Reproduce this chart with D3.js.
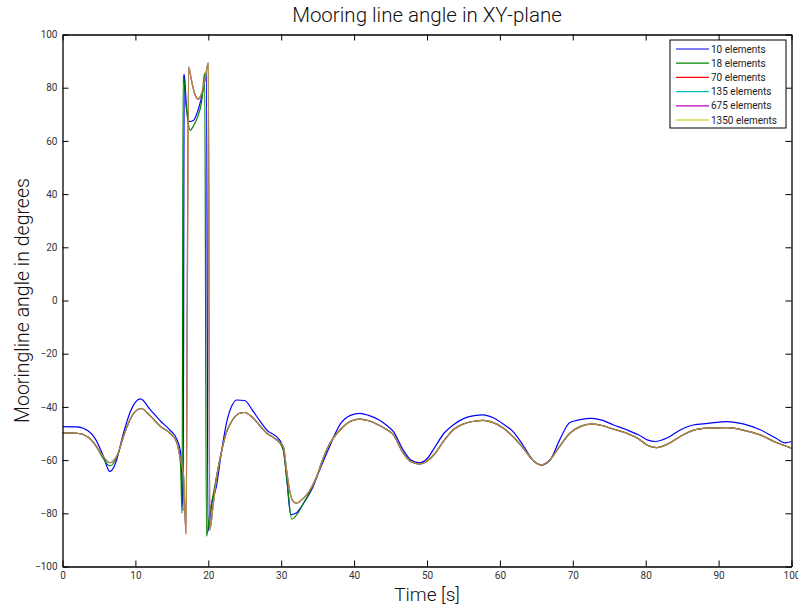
<!DOCTYPE html>
<html>
<head>
<meta charset="utf-8">
<script src="https://cdn.jsdelivr.net/npm/d3@7"></script>
<style>
  body { margin: 0; background: #fff; }
  svg { display: block; font-family: Roboto, "DejaVu Sans", sans-serif; }
</style>
</head>
<body>
<svg id="chart" width="798" height="609"></svg>
<script>
// ---- series metadata ----
const seriesNames  = ["10 elements", "18 elements", "70 elements", "135 elements", "675 elements", "1350 elements"];
const seriesColors = ["#0000ff", "#008000", "#ff0000", "#00bfbf", "#bf00bf", "#bfbf00"];

// ---- tick labels ----
const xTicks = [0, 10, 20, 30, 40, 50, 60, 70, 80, 90, 100];
const yTicks = [-100, -80, -60, -40, -20, 0, 20, 40, 60, 80, 100];

// ---- converged solution, shared by the fine discretisations (outside the flip) ----
const convergedTime  = [0, 2, 3.5, 4.5, 5.5, 6.5, 7.5, 8.5, 9.5, 10.8, 12, 13.5, 14.7, 15.7, 16.1,
  21.1, 21.8, 22.5, 23.3, 24.3, 25.0, 26, 27, 28, 29, 29.8, 30.3, 30.75, 31.2, 31.6, 32.1, 32.7, 33.5,
  34.2, 34.9, 35.6, 36.7, 37.5, 38.1, 39.5, 40.8, 42, 43.5, 44.5, 45.4, 46.7, 47.8, 49.0, 50, 51, 52.3,
  53.6, 55, 56.5, 57.7, 59, 60.5, 61.8, 63.2, 64.5, 65.7, 66.9, 68.2, 69.6, 71, 72.6, 74, 75.5, 77.4,
  79, 80.3, 81.5, 83, 84.8, 86.5, 88.5, 91.1, 93.5, 95.7, 98, 100];
const convergedAngle = [-49.8, -49.9, -51.3, -54.3, -58.3, -61.0, -58.2, -50, -43.5, -40.6, -43.3, -47.5, -49.8, -53.5, -58.7,
  -67.4, -57, -49.5, -45, -42.4, -42.1, -43.8, -46.8, -49.8, -51.6, -53.5, -55, -64, -72, -75.3, -76.2, -75.2, -73,
  -70, -66, -60.5, -53.6, -50.5, -48.6, -45.4, -44.6, -45.2, -47, -48.6, -50.5, -57.2, -60.6, -61.4, -60.4, -57.8, -52.8,
  -48.6, -46.4, -45.4, -45.1, -45.8, -48, -51.2, -55.5, -60, -61.8, -59.8, -54.8, -49.9, -47.4, -46.5, -47, -48.3, -49.9,
  -52, -54.5, -55.3, -54, -51, -48.8, -48, -47.8, -48.8, -50.5, -53.5, -55.5];

// ---- 10 elements ----
const time10  = [0, 2, 3.5, 4.5, 5.5, 6.5, 7.3, 8.3, 9.3, 10.7, 12, 13.5, 14.7, 15.7, 16.2, 16.55, 16.7,
  17.0, 17.4, 18.0, 18.5, 19.0, 19.4, 19.75, 19.95, 20.5, 21.1, 21.8, 22.5, 23.3, 23.9, 25.0, 26, 27, 28,
  29.8, 30.3, 30.8, 31.3, 32.0, 33, 34.2, 35.3, 36.7, 37.5, 38.1, 39.5, 40.8, 42, 43.5, 44.5, 45.4, 46.7,
  47.8, 49, 50, 51, 52.3, 53.6, 55, 56.5, 57.7, 59, 60.5, 61.8, 63.2, 64.5, 65.7, 66.9, 68.2, 69.6, 71,
  72.6, 74, 75.5, 77.4, 79, 80.3, 81.3, 83, 84.8, 86.5, 88.5, 91.1, 93.5, 95.7, 98, 99.1, 100];
const angle10 = [-47.4, -47.5, -49, -52, -57.8, -64.3, -61, -50.5, -41.8, -37, -40.9, -45.5, -48.6, -52.3, -57, -79, 85,
  73, 67.3, 67.8, 70.8, 75.5, 80.5, 85.5, -86.8, -76, -70, -57, -46, -39.2, -37.4, -37.6, -41, -45, -48.6,
  -52.5, -56, -68, -80.5, -80, -76.5, -71, -63.5, -54.5, -49.5, -46.5, -43.2, -42.4, -43.2, -45, -47, -49.3, -56,
  -60, -61, -59.5, -55.5, -50, -46.8, -44.4, -43.3, -43.0, -44, -46.5, -49.3, -54.5, -60, -61.8, -59.9, -52.4, -45.9, -44.8,
  -44.3, -45, -46.7, -48.6, -50.5, -52.5, -53, -51.6, -48.6, -46.8, -46.2, -45.5, -46.5, -48.6, -52, -53.5, -53];

// ---- 18 elements: where it departs from the converged solution ----
const time18a  = [5.5, 6.5, 7.5];
const angle18a = [-59, -62.2, -58.6];
const time18b  = [16.1, 16.2, 16.4, 16.55, 17.0, 17.5, 18.0, 18.6, 19.1, 19.5, 19.75, 20.2, 20.7, 21.1];
const angle18b = [-58.7, -62, -80, 85, 72, 64, 65.8, 69.5, 75, 85.6, -88.7, -80, -72.5, -66.5];
const time18c  = [30.3, 30.8, 31.45, 32.2, 33, 34.2];
const angle18c = [-56.5, -68, -82.2, -80.3, -76.5, -70.5];

// ---- flip region of the fine discretisations ----
const flipTime70    = [16.6, 16.95, 17.3, 17.7, 18.1, 18.6, 19.1, 19.6, 20.0, 20.2, 20.7];
const flipAngle70   = [-66, -88, 87.5, 82.5, 78, 75.6, 77.8, 83.8, 89.2, -86.4, -76];
const flipTime135   = [16.6, 16.93, 17.28, 17.7, 18.1, 18.6, 19.1, 19.6, 20.0, 20.2, 20.7];
const flipAngle135  = [-66, -87.2, 87.6, 82.8, 78.2, 75.9, 78, 84, 89.3, -86.1, -76.2];
const flipTime675   = [16.6, 16.94, 17.3, 17.7, 18.1, 18.6, 19.1, 19.6, 20.0, 20.2, 20.7];
const flipAngle675  = [-66.2, -87.4, 87.8, 82.6, 78, 75.7, 77.9, 84, 89.4, -86.2, -76];
const flipTime1350  = [16.62, 16.96, 17.32, 17.7, 18.1, 18.6, 19.1, 19.6, 20.02, 20.22, 20.7];
const flipAngle1350 = [-66, -87.3, 88, 82.8, 78.2, 75.8, 78.1, 84.2, 89.5, -86.3, -76.1];

// ---- helpers ----
const zipPts = (t, a) => t.map((v, i) => ({ t: v, a: a[i] }));
// replace the base points lying inside each patch's time span by the patch points
function patched(baseT, baseA, patches) {
  let pts = zipPts(baseT, baseA);
  patches.forEach(([pt, pa]) => {
    const lo = pt[0], hi = pt[pt.length - 1];
    pts = pts.filter(p => p.t < lo || p.t > hi).concat(zipPts(pt, pa));
  });
  return pts.sort((p, q) => p.t - q.t);
}

const seriesData = [
  zipPts(time10, angle10),
  patched(convergedTime, convergedAngle, [[time18a, angle18a], [time18b, angle18b], [time18c, angle18c]]),
  patched(convergedTime, convergedAngle, [[flipTime70, flipAngle70]]),
  patched(convergedTime, convergedAngle, [[flipTime135, flipAngle135]]),
  patched(convergedTime, convergedAngle, [[flipTime675, flipAngle675]]),
  patched(convergedTime, convergedAngle, [[flipTime1350, flipAngle1350]])
];

// ---- layout ----
const svg = d3.select("#chart");
const plot = { left: 62.5, right: 791.5, top: 34.5, bottom: 566.5 };

const x = d3.scaleLinear().domain([0, 100]).range([plot.left, plot.right]);
const y = d3.scaleLinear().domain([-100, 100]).range([plot.bottom, plot.top]);

svg.append("rect").attr("width", 798).attr("height", 609).attr("fill", "#fff");

// clip for the curves
svg.append("clipPath").attr("id", "plotClip")
  .append("rect")
  .attr("x", plot.left).attr("y", plot.top)
  .attr("width", plot.right - plot.left).attr("height", plot.bottom - plot.top);

// ---- curves ----
const line = d3.line()
  .x(d => x(d.t))
  .y(d => y(d.a))
  .curve(d3.curveMonotoneX);

const curves = svg.append("g").attr("clip-path", "url(#plotClip)");
seriesData.forEach((pts, i) => {
  curves.append("path")
    .datum(pts)
    .attr("d", line)
    .attr("fill", "none")
    .attr("stroke", seriesColors[i])
    .attr("stroke-width", 1.2)
    .attr("stroke-opacity", i < 2 ? 1 : 0.65)
    .attr("stroke-linejoin", "round");
});

// ---- axes (ticks pointing inwards on all four sides) ----
const tickLen = 6;
const axisFont = g => g.selectAll("text")
  .attr("font-size", 10).attr("fill", "#333")
  .attr("font-family", "Roboto, 'DejaVu Sans', sans-serif");

const gx = svg.append("g").attr("transform", `translate(0,${plot.bottom})`)
  .call(d3.axisBottom(x).tickValues(xTicks).tickSizeInner(-tickLen).tickSizeOuter(0).tickPadding(5));
gx.call(axisFont);

const gy = svg.append("g").attr("transform", `translate(${plot.left},0)`)
  .call(d3.axisLeft(y).tickValues(yTicks).tickSizeInner(-tickLen).tickSizeOuter(0).tickPadding(5));
gy.call(axisFont);

svg.append("g").attr("transform", `translate(0,${plot.top})`)
  .call(d3.axisTop(x).tickValues(xTicks).tickSizeInner(-tickLen).tickSizeOuter(0).tickFormat(""));
svg.append("g").attr("transform", `translate(${plot.right},0)`)
  .call(d3.axisRight(y).tickValues(yTicks).tickSizeInner(-tickLen).tickSizeOuter(0).tickFormat(""));

svg.selectAll(".domain").attr("stroke", "#000").attr("stroke-width", 1.3);
svg.selectAll(".tick line").attr("stroke", "#000");

// ---- titles ----
svg.append("text")
  .attr("x", 427).attr("y", 22)
  .attr("text-anchor", "middle").attr("font-size", 20.5).attr("font-weight", 300).attr("fill", "#111")
  .text("Mooring line angle in XY-plane");

svg.append("text")
  .attr("x", 427).attr("y", 601)
  .attr("text-anchor", "middle").attr("font-size", 19).attr("font-weight", 300).attr("fill", "#111")
  .text("Time [s]");

svg.append("text")
  .attr("transform", `translate(29,${(plot.top + plot.bottom) / 2}) rotate(-90)`)
  .attr("text-anchor", "middle").attr("font-size", 19.5).attr("font-weight", 300).attr("fill", "#111")
  .text("Mooringline angle in degrees");

// ---- legend ----
const legend = svg.append("g").attr("transform", "translate(670,40)");
legend.append("rect")
  .attr("x", 0).attr("y", 0).attr("width", 116).attr("height", 88)
  .attr("fill", "#fff").attr("stroke", "#000").attr("stroke-width", 1);
seriesNames.forEach((name, i) => {
  const yy = 9 + i * 14.2;
  legend.append("line")
    .attr("x1", 6).attr("x2", 39).attr("y1", yy).attr("y2", yy)
    .attr("stroke", seriesColors[i]).attr("stroke-width", 1.2);
  legend.append("text")
    .attr("x", 41).attr("y", yy).attr("dy", "0.35em")
    .attr("font-size", 10).attr("fill", "#222")
    .text(name);
});
</script>
</body>
</html>
